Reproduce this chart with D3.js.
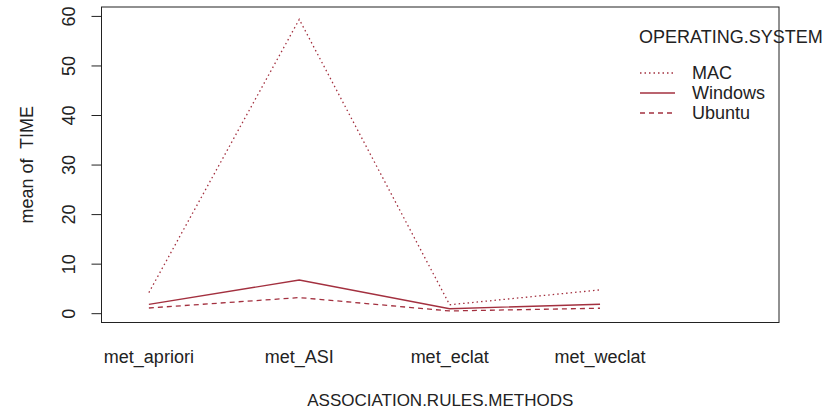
<!DOCTYPE html>
<html>
<head>
<meta charset="utf-8">
<script src="https://cdn.jsdelivr.net/npm/d3@7"></script>
<style>
  body { margin: 0; background: #fff; }
  text { font-family: "Liberation Sans", Arial, sans-serif; fill: #222; }
</style>
</head>
<body>
<div class="chart"></div>
<script>
const width = 829
const height = 414

const methods = ["met_apriori", "met_ASI", "met_eclat", "met_weclat"]
const systems = ["MAC", "Windows", "Ubuntu"]
const macTime = [4.15, 59.3, 1.7, 4.7]
const windowsTime = [1.8, 6.7, 0.9, 1.8]
const ubuntuTime = [1.05, 3.15, 0.45, 1.0]
const yTicks = [0, 10, 20, 30, 40, 50, 60]

const series = [
    {name: systems[0], values: macTime, dash: "1.5 3"},
    {name: systems[1], values: windowsTime, dash: null},
    {name: systems[2], values: ubuntuTime, dash: "5 4"},
]

const lineColor = "#a3303f"
const fontSize = "18px"

const svg = d3.select(".chart")
    .append("svg")
    .attr("width", width)
    .attr("height", height)

// plot region (R style, x extended on the right for the legend)
const xScale = d3.scaleLinear()
    .domain([0.685, 5.19])
    .range([101.5, 779])

const yScale = d3.scaleLinear()
    .domain([-1.88, 61.8])
    .range([322.5, 7])

const [x0, x1] = xScale.range()
const [yb, yt] = yScale.range()

// curves
const line = d3.line()
    .x((d, i) => xScale(i + 1))
    .y(d => yScale(d))

svg.selectAll("path.series")
    .data(series)
    .enter().append("path")
        .attr("class", "series")
        .attr("d", d => line(d.values))
        .attr("fill", "none")
        .attr("stroke", lineColor)
        .attr("stroke-width", 1.3)
        .attr("stroke-dasharray", d => d.dash)

// box
svg.append("rect")
    .attr("x", x0)
    .attr("y", yt)
    .attr("width", x1 - x0)
    .attr("height", yb - yt)
    .attr("fill", "none")
    .attr("stroke", "#222")
    .attr("stroke-width", 1)

// y axis
const yAxis = svg.append("g")
    .attr("transform", `translate(${x0}, 0)`)
    .call(d3.axisLeft(yScale).tickValues(yTicks).tickSize(10).tickPadding(0))

yAxis.select("path.domain")
    .attr("d", `M0,${yScale(0)}V${yScale(60)}`)
    .attr("stroke", "#222")
yAxis.selectAll(".tick line").attr("stroke", "#222")
yAxis.selectAll(".tick text")
    .attr("x", 0)
    .attr("y", 0)
    .attr("dy", null)
    .attr("text-anchor", "middle")
    .attr("transform", "translate(-33, 0) rotate(-90)")
    .attr("dominant-baseline", "central")
    .style("font-size", fontSize)
    .style("font-family", "Liberation Sans, Arial, sans-serif")
    .attr("fill", "#222")

// x labels (no ticks)
svg.selectAll("text.xlab")
    .data(methods)
    .enter().append("text")
        .attr("class", "xlab")
        .attr("x", (d, i) => xScale(i + 1))
        .attr("y", 357)
        .attr("text-anchor", "middle")
        .attr("dominant-baseline", "central")
        .style("font-size", fontSize)
        .text(d => d)

// axis titles
svg.append("text")
    .attr("x", (x0 + x1) / 2)
    .attr("y", 400)
    .attr("text-anchor", "middle")
    .attr("dominant-baseline", "central")
    .style("font-size", "17px")
    .text("ASSOCIATION.RULES.METHODS")

svg.append("text")
    .attr("transform", `translate(27, ${(yb + yt) / 2}) rotate(-90)`)
    .attr("text-anchor", "middle")
    .attr("dominant-baseline", "central")
    .style("font-size", fontSize)
    .style("white-space", "pre")
    .text("mean of  TIME")

// legend
const legend = svg.append("g")

legend.append("text")
    .attr("x", 639)
    .attr("y", 37)
    .attr("dominant-baseline", "central")
    .style("font-size", fontSize)
    .text("OPERATING.SYSTEM")

const items = legend.selectAll("g.item")
    .data(series)
    .enter().append("g")
        .attr("class", "item")
        .attr("transform", (d, i) => `translate(0, ${73 + i * 20})`)

items.append("line")
    .attr("x1", 640)
    .attr("x2", 675)
    .attr("stroke", lineColor)
    .attr("stroke-width", 1.3)
    .attr("stroke-dasharray", d => d.dash)

items.append("text")
    .attr("x", 692)
    .attr("dominant-baseline", "central")
    .style("font-size", fontSize)
    .text(d => d.name)
</script>
</body>
</html>
